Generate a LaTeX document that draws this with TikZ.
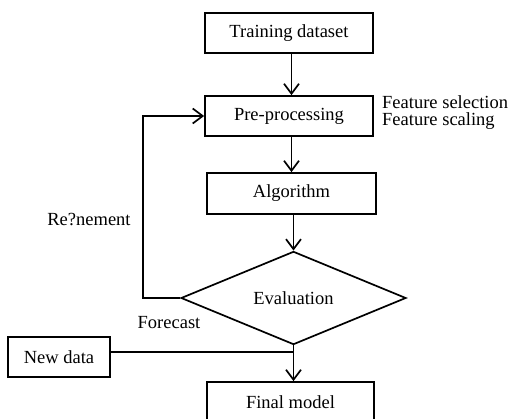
\documentclass[tikz,border=0pt]{standalone}
\usepackage{fontspec}
\setmainfont{Liberation Serif}
\usetikzlibrary{arrows.meta,shapes.geometric}
\begin{document}
\begin{tikzpicture}[x=1pt,y=-1pt,
  box/.style={draw,line width=1.7pt,inner sep=0pt},
  conn/.style={line width=1.4pt},
  arr/.style={conn,-{Straight Barb[length=10pt,width=15pt,line width=1.7pt]}},
  lbl/.style={inner sep=0pt},
  font=\fontsize{18.5}{17}\selectfont]
\useasboundingbox (0,0) rectangle (508,419);
\node[box,minimum width=168pt,minimum height=40pt] (train) at (289,33) {Training dataset};
\node[box,minimum width=168pt,minimum height=40pt] (pre) at (289,116) {Pre-processing};
\node[box,minimum width=169pt,minimum height=41pt] (alg) at (291.5,193.5) {Algorithm};
\node[box,diamond,minimum width=225pt,minimum height=82pt] (eval) at (293.5,298) {Evaluation};
\node[box,minimum width=167pt,minimum height=40pt] (final) at (290.5,402) {Final model};
\node[box,minimum width=102pt,minimum height=40pt] (nd) at (59,357) {New data};
\node[lbl,anchor=base west] (fs1) at (382,108.5) {Feature selection};
\node[lbl,anchor=base west] (fs2) at (382,126) {Feature scaling};
\node[lbl] (ref) at (89,220) {Re?nement};
\node[lbl] (fc) at (169,323) {Forecast};
\coordinate (loop) at (143,298);
\coordinate (j) at (293.5,352);
\draw[arr] (train.south -| alg.north) -- (pre.north -| alg.north);
\draw[arr] (pre.south -| alg.north) -- (alg.north);
\draw[arr] (alg.south -| eval.north) -- (eval.north);
\draw[arr] (eval.west) -- (loop) |- (pre.west);
\draw[conn] (nd.east |- j) -- (j);
\draw[arr] (eval.south) -- (eval.south |- final.north);
\end{tikzpicture}
\end{document}
